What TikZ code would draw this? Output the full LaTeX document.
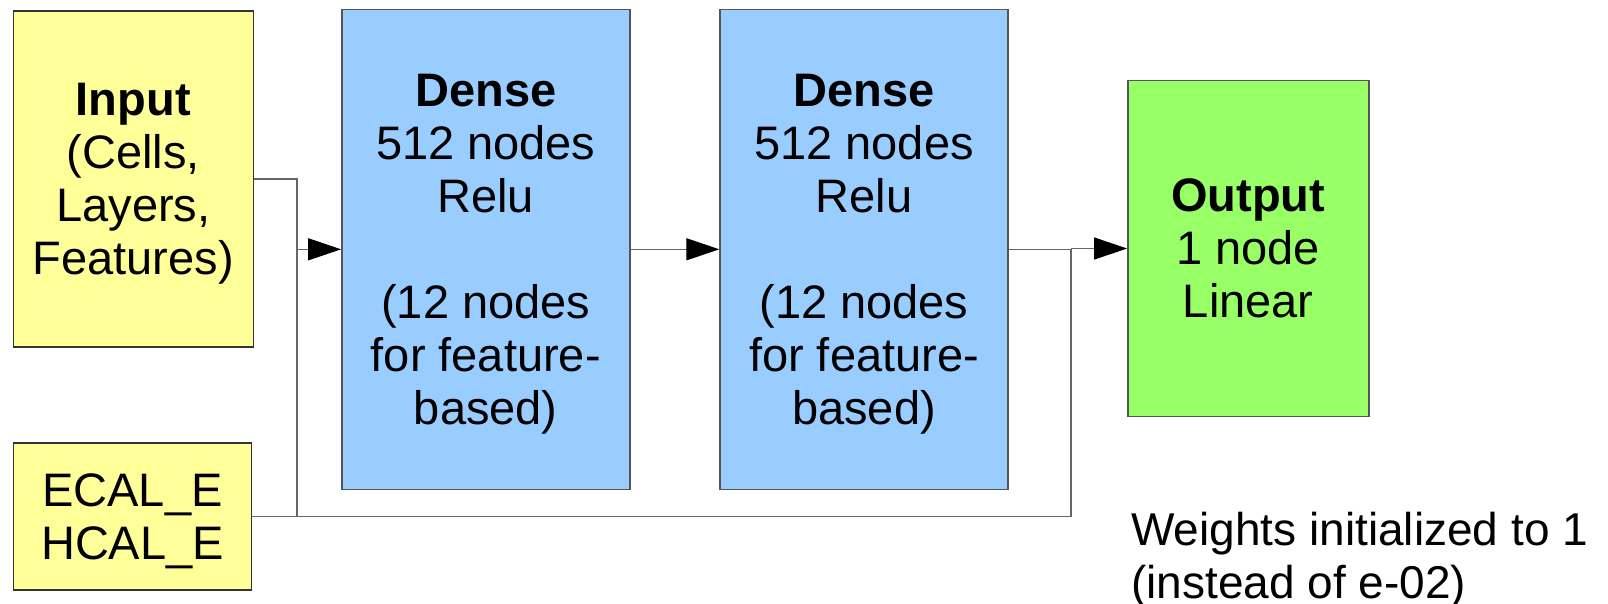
\documentclass[tikz,border=0pt]{standalone}
\usepackage{fontspec}
\setmainfont{Liberation Sans}
\usepackage{xcolor}
\usetikzlibrary{arrows.meta, positioning}
\definecolor{layerYellow}{HTML}{FFFF99}
\definecolor{layerBlue}{HTML}{99CCFF}
\definecolor{layerGreen}{HTML}{99FF66}
\definecolor{edgeGray}{HTML}{555555}
\definecolor{wireGray}{HTML}{666666}

\begin{document}
\begin{tikzpicture}[
    x=1pt, y=-1pt,
    >=Stealth,
    % Layer box (common look)
    layerbox/.style={
        rectangle, draw=edgeGray, line width=1.4pt,
        align=center, inner sep=0pt, text depth=0pt,
        font=\fontsize{47}{53}\selectfont
    },
    % Yellow input blocks
    inbox/.style={layerbox, fill=layerYellow, draw=black!80},
    % Blue hidden layers
    densebox/.style={layerbox, fill=layerBlue,
        minimum width=288pt, minimum height=480pt},
    % Green output layer
    outbox/.style={layerbox, fill=layerGreen,
        minimum width=241pt, minimum height=336pt},
    % Connectors
    wire/.style={draw=wireGray, line width=1.3pt},
    arrowwire/.style={wire, -{Triangle[length=33pt, width=22pt, fill=black, color=black]}}
]
\useasboundingbox (0,0) rectangle (1608,603);
% ── Inputs ───────────────────────────────────────────────────
\node[inbox, minimum width=240pt, minimum height=336pt] (input) at (133.3, 179)
    {\textbf{Input}\\(Cells,\\Layers,\\Features)};
\node[inbox, minimum width=238pt, minimum height=147pt] (ecal) at (132.5, 516.5)
    {ECAL\_E\\HCAL\_E};
% ── Dense layers ─────────────────────────────────────────────
\node[densebox] (dense1) at (485.8, 249.3)
    {\textbf{Dense}\\512 nodes\\Relu\\[53pt](12 nodes\\for feature-\\based)};
\node[densebox] (dense2) at (864, 249.3)
    {\textbf{Dense}\\512 nodes\\Relu\\[53pt](12 nodes\\for feature-\\based)};
% ── Output ───────────────────────────────────────────────────
\node[outbox] (output) at (1248.3, 248.5)
    {\textbf{Output}\\1 node\\Linear};
% ── Note ─────────────────────────────────────────────────────
\node[anchor=base west, align=left, inner sep=0pt,
      font=\fontsize{46}{53}\selectfont] (note) at (1131, 598)
    {Weights initialized to 1\\(instead of e-02)};
% ── Junctions ────────────────────────────────────────────────
\coordinate (j1) at (297, 249.3);
\coordinate (j2) at (1071, 248.5);
% ── Connectors ───────────────────────────────────────────────
\draw[wire] (input.east) -| (j1);
\draw[wire] (ecal.east) -| (j1);
\draw[arrowwire] (j1) -- (dense1.west |- j1);
\draw[arrowwire] (dense1.east) -- (dense2.west);
\draw[wire] (dense2.east) -- (dense2.east -| j2);
\draw[wire] (ecal.east) -| (j2);
\draw[arrowwire] (j2) -- (output.west);
\end{tikzpicture}
\end{document}
